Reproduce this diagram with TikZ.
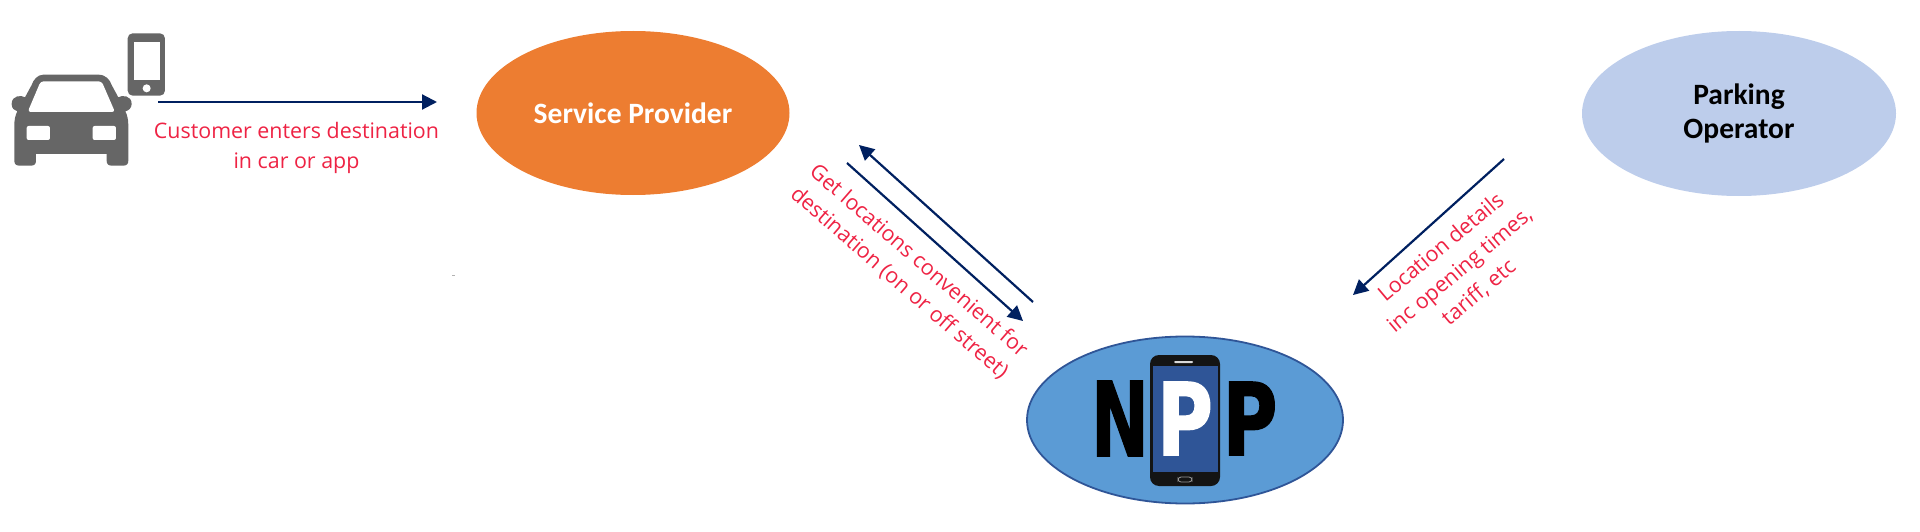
\documentclass[tikz,border=0pt]{standalone}
\usepackage{fontspec}
\usepackage{graphicx}
\setmainfont{Open Sans}
\newfontfamily\calib{Carlito}
\newfontfamily\heavy[BoldFeatures={FakeBold=1.5}]{DejaVu Sans}
\usetikzlibrary{shapes.geometric,arrows.meta}
\definecolor{navy}{HTML}{002060}
\definecolor{lab}{HTML}{EE2344}
\definecolor{orng}{HTML}{ED7D31}
\definecolor{pale}{HTML}{BDCDEB}
\definecolor{blu}{HTML}{5B9BD5}
\definecolor{edge}{HTML}{2F5597}
\definecolor{carg}{HTML}{666666}
\tikzset{
  flow/.style={draw=navy,line width=2.2pt,-{Triangle[length=15pt,width=15pt]}},
  actor/.style={ellipse,inner sep=0pt,align=center},
  labeltext/.style={text=lab,font=\fontsize{21.4pt}{29.3pt}\selectfont,align=center,inner sep=0pt},
  bigname/.style={font=\calib\bfseries\fontsize{29.5pt}{34pt}\selectfont,align=center},
  letter/.style={inner sep=0pt,font=\heavy\bfseries}
}
\begin{document}
\begin{tikzpicture}[x=1pt,y=-1pt]
\useasboundingbox (0,0) rectangle (1920,532);
% car
\begin{scope}[x=0.3333pt,y=-0.3333pt]
\fill[carg] (130,224) -- (295,224) .. controls (318,224) and (330,240) .. (335,255) -- (355,292)
 .. controls (365,285) and (395,285) .. (395,312) .. controls (395,325) and (385,332) .. (376,334)
 .. controls (382,345) and (385,360) .. (385,375) -- (385,482) .. controls (385,492) and (380,497) .. (370,497)
 -- (335,497) .. controls (325,497) and (320,492) .. (320,482) -- (320,462) -- (108,462) -- (108,482)
 .. controls (108,492) and (103,497) .. (93,497) -- (58,497) .. controls (48,497) and (43,492) .. (43,482)
 -- (43,375) .. controls (43,360) and (46,345) .. (52,334) .. controls (43,332) and (35,325) .. (35,312)
 .. controls (35,285) and (65,285) .. (75,292) -- (95,255) .. controls (100,240) and (112,224) .. (130,224) -- cycle;
\fill[white,rounded corners=3pt] (122,244) -- (305,244) -- (345,336) -- (83,336) -- cycle;
\fill[white,rounded corners=2pt] (80,378) rectangle (150,420);
\fill[white,rounded corners=2pt] (278,378) rectangle (348,420);
% small phone
\fill[carg,rounded corners=5pt] (383,100) rectangle (495,287);
\fill[white] (402,125) rectangle (480,240);
\fill[white] (440,265) circle (12);
\end{scope}
% ellipses
\node[actor,fill=orng,minimum width=313pt,minimum height=164pt,text=white,bigname] (sp) at (633,113) {Service Provider};
\node[actor,fill=pale,minimum width=314pt,minimum height=165pt,text=black,bigname] (po) at (1739,113.5) {Parking\\Operator};
\node[actor,fill=blu,draw=edge,line width=1.8pt,minimum width=316pt,minimum height=167pt] (npp) at (1185,420) {};
% NPP logo
\fill[black!92,rounded corners=9pt] (1150,355) rectangle (1220,486);
\fill[edge] (1152.5,366) rectangle (1218,472);
\fill[white!85!black,rounded corners=1pt] (1174,361) rectangle (1193,363);
\draw[white!60!black,line width=0.8pt,rounded corners=3pt] (1178,477) rectangle (1192,482);
\node[letter,text=black] (ln) at (1120,418.5) {\resizebox{58pt}{75pt}{N}};
\node[letter,text=white] (lp) at (1185,418.5) {\resizebox{56pt}{73pt}{P}};
\node[letter,text=black] (lq) at (1250,418.5) {\resizebox{55pt}{73pt}{P}};
% connector ends
\coordinate (a1) at (158,102);
\coordinate (a2) at (437,102);
\coordinate (b1) at (1033,302);
\coordinate (b2) at (859,145);
\coordinate (c1) at (847,163);
\coordinate (c2) at (1023,321);
\coordinate (d1) at (1504,159);
\coordinate (d2) at (1353,295);
\draw[flow] (a1) -- (a2);
\draw[flow] (b1) -- (b2);
\draw[flow] (c1) -- (c2);
\draw[flow] (d1) -- (d2);
% labels
\node[labeltext] (t1) at (296.5,148) {Customer enters destination\\in car or app};
\node[labeltext,rotate=-41] (t2) at (909,272) {Get locations convenient for\\destination (on or off street)};
\node[labeltext,rotate=40] (t3) at (1460,270) {Location details\\inc opening times,\\tariff, etc};
\fill[gray!60] (452,275) rectangle (455,275.8);
\end{tikzpicture}
\end{document}
